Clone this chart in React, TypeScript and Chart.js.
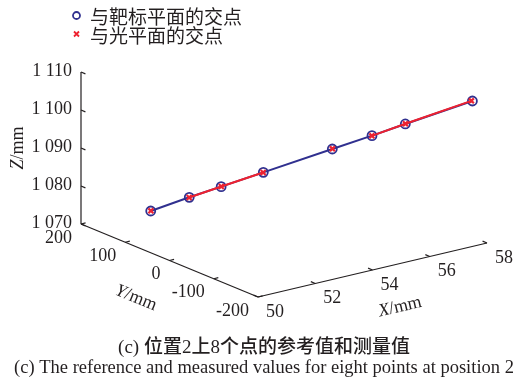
import { useEffect, useRef } from 'react';
import { Chart, registerables } from 'chart.js';

Chart.register(...registerables);

// ---------- data ----------
const X_REF = [50.89, 51.68, 52.33, 53.2, 54.59, 55.42, 56.12, 57.49];
const Y_REF = [100, 64, 34, -5, -71, -107, -137, -200];
const Z_REF = [1076.64, 1080.57, 1083.66, 1087.76, 1094.6, 1098.36, 1101.64, 1108.27];

const X_MEAS = [50.91, 51.66, 52.35, 53.18, 54.61, 55.4, 56.14, 57.47];
const Y_MEAS = [101, 63, 35, -6, -70, -108, -136, -199];
const Z_MEAS = [1076.6, 1080.62, 1083.62, 1087.8, 1094.55, 1098.4, 1101.6, 1108.3];

const X_TICKS = [50, 52, 54, 56, 58];
const Y_TICKS = [200, 100, 0, -100, -200];
const Z_TICKS = [1070, 1080, 1090, 1100, 1110];
const Z_TICK_LABELS = ['1 070', '1 080', '1 090', '1 100', '1 110'];

const LEGEND_LABELS = ['与靶标平面的交点', '与光平面的交点'];
const CAPTION_CN = '(c) 位置2上8个点的参考值和测量值';
const CAPTION_EN = '(c) The reference and measured values for eight points at position 2';

// ---------- style ----------
const BLUE = '#30308f';
const RED = '#ee2230';
const INK = '#231f20';
const SERIF = "'Liberation Serif', 'Times New Roman', serif";
const CJK = "'Noto Sans CJK SC', sans-serif";
const MIXED = "'Liberation Serif', 'Noto Sans CJK SC', serif";

const X_MIN = 50, X_MAX = 58, Y_MIN = -200, Y_MAX = 200, Z_MIN = 1070, Z_MAX = 1110;

// oblique projection of the 3D box onto the page plane
function project(x: number, y: number, z: number) {
  const nx = (x - X_MIN) / (X_MAX - X_MIN);
  const ny = (y - Y_MIN) / (Y_MAX - Y_MIN);
  const nz = (z - Z_MIN) / (Z_MAX - Z_MIN);
  return {
    x: 258 + 229 * nx - 177 * ny,
    y: 297 - 54 * nx - 73 * ny - 152 * nz,
  };
}

const refPoints = X_REF.map((x, i) => project(x, Y_REF[i], Z_REF[i]));
const measPoints = X_MEAS.map((x, i) => project(x, Y_MEAS[i], Z_MEAS[i]));
const BLUE_VISIBLE_SEGMENTS = [0, 3, 4];

function drawParts(
  ctx: CanvasRenderingContext2D,
  parts: { t: string; italic?: boolean }[],
  cx: number,
  cy: number,
  angle: number,
  size: number
) {
  ctx.save();
  ctx.translate(cx, cy);
  ctx.rotate(angle);
  ctx.textBaseline = 'middle';
  ctx.textAlign = 'left';
  let total = 0;
  const widths = parts.map((p) => {
    ctx.font = `${p.italic ? 'italic ' : ''}${size}px ${SERIF}`;
    const w = ctx.measureText(p.t).width;
    total += w;
    return w;
  });
  let x = -total / 2;
  parts.forEach((p, i) => {
    ctx.font = `${p.italic ? 'italic ' : ''}${size}px ${SERIF}`;
    ctx.fillStyle = INK;
    ctx.fillText(p.t, x, 0);
    x += widths[i];
  });
  ctx.restore();
}

const axes3dPlugin = {
  id: 'axes3d',
  beforeDatasetsDraw(chart: any) {
    const ctx: CanvasRenderingContext2D = chart.ctx;
    const sx = chart.scales.x, sy = chart.scales.y;
    const P = (x: number, y: number, z: number) => {
      const p = project(x, y, z);
      return { x: sx.getPixelForValue(p.x), y: sy.getPixelForValue(p.y) };
    };
    ctx.save();
    ctx.strokeStyle = INK;
    ctx.lineWidth = 1.2;
    const line = (a: any, b: any) => {
      ctx.beginPath();
      ctx.moveTo(a.x, a.y);
      ctx.lineTo(b.x, b.y);
      ctx.stroke();
    };
    // axis lines
    line(P(X_MIN, Y_MAX, Z_MIN), P(X_MIN, Y_MAX, Z_MAX));
    line(P(X_MIN, Y_MAX, Z_MIN), P(X_MIN, Y_MIN, Z_MIN));
    line(P(X_MIN, Y_MIN, Z_MIN), P(X_MAX, Y_MIN, Z_MIN));
    // ticks
    Z_TICKS.forEach((z) => line(P(X_MIN, Y_MAX, z), P(X_MIN, Y_MAX - 10, z)));
    Y_TICKS.forEach((y) => line(P(X_MIN, y, Z_MIN), P(X_MIN + 0.16, y, Z_MIN)));
    X_TICKS.forEach((x) => line(P(x, Y_MIN, Z_MIN), P(x, Y_MIN + 10, Z_MIN)));
    ctx.restore();
  },
  afterDraw(chart: any) {
    const ctx: CanvasRenderingContext2D = chart.ctx;
    const sx = chart.scales.x, sy = chart.scales.y;
    const P = (x: number, y: number, z: number) => {
      const p = project(x, y, z);
      return { x: sx.getPixelForValue(p.x), y: sy.getPixelForValue(p.y) };
    };
    ctx.save();
    ctx.fillStyle = INK;
    ctx.font = `18px ${SERIF}`;
    ctx.textBaseline = 'middle';
    // Z tick labels
    ctx.textAlign = 'right';
    Z_TICKS.forEach((z, i) => {
      const p = P(X_MIN, Y_MAX, z);
      ctx.fillText(Z_TICK_LABELS[i], p.x - 9, p.y - 1);
    });
    // Y tick labels
    ctx.textAlign = 'right';
    Y_TICKS.forEach((y) => {
      const p = P(X_MIN, y, Z_MIN);
      ctx.fillText(String(y), p.x - 9, p.y + 14);
    });
    // X tick labels
    ctx.textAlign = 'center';
    X_TICKS.forEach((x) => {
      const p = P(x, Y_MIN, Z_MIN);
      ctx.fillText(String(x), p.x + 17, p.y + 15);
    });
    // axis titles
    drawParts(ctx, [{ t: 'Z', italic: true }, { t: '/mm' }], 18, 148, -Math.PI / 2, 18);
    drawParts(ctx, [{ t: 'Y', italic: true }, { t: '/mm' }], 136, 298, (22 * Math.PI) / 180, 18);
    drawParts(ctx, [{ t: 'X', italic: true }, { t: '/mm' }], 400, 307, (-13 * Math.PI) / 180, 18);

    // legend
    ctx.strokeStyle = BLUE;
    ctx.lineWidth = 1.8;
    ctx.beginPath();
    ctx.arc(76.5, 15.5, 3.5, 0, Math.PI * 2);
    ctx.stroke();
    ctx.strokeStyle = RED;
    ctx.lineWidth = 1.8;
    ctx.beginPath();
    ctx.moveTo(74, 31.5);
    ctx.lineTo(79, 36.5);
    ctx.moveTo(79, 31.5);
    ctx.lineTo(74, 36.5);
    ctx.stroke();
    ctx.fillStyle = INK;
    ctx.font = `19px ${CJK}`;
    ctx.textAlign = 'left';
    ctx.fillText(LEGEND_LABELS[0], 90, 16.5);
    ctx.fillText(LEGEND_LABELS[1], 90, 35.5);

    // caption
    ctx.textAlign = 'center';
    ctx.font = `500 19px ${MIXED}`;
    ctx.fillText(CAPTION_CN, 264, 348);
    ctx.font = `18.5px ${SERIF}`;
    ctx.fillText(CAPTION_EN, 264, 368);
    ctx.restore();
  },
};

export default function App() {
  const ref = useRef<HTMLCanvasElement | null>(null);
  useEffect(() => {
    if (!ref.current) return;
    const chart = new Chart(ref.current, {
      type: 'scatter',
      data: {
        datasets: [
          {
            label: LEGEND_LABELS[1],
            data: measPoints,
            showLine: true,
            borderColor: RED,
            backgroundColor: RED,
            borderWidth: 2,
            pointStyle: 'crossRot',
            pointRadius: 3.5,
            pointBorderWidth: 2.2,
            order: 1,
            segment: {
              borderColor: (c: any) =>
                BLUE_VISIBLE_SEGMENTS.includes(c.p0DataIndex) ? 'rgba(0,0,0,0)' : RED,
            },
          },
          {
            label: LEGEND_LABELS[0],
            data: refPoints,
            showLine: true,
            borderColor: BLUE,
            backgroundColor: 'rgba(255,255,255,0)',
            borderWidth: 2,
            pointStyle: 'circle',
            pointRadius: 4.5,
            pointBorderWidth: 1.8,
            order: 2,
          },
        ],
      },
      options: {
        responsive: false,
        animation: false,
        layout: { padding: 0, autoPadding: false },
        events: [],
        plugins: { legend: { display: false }, tooltip: { enabled: false }, title: { display: false } },
        scales: {
          x: { type: 'linear', min: 0, max: 516, display: false },
          y: { type: 'linear', min: 0, max: 385, reverse: true, display: false },
        },
      },
      plugins: [axes3dPlugin],
    } as any);
    return () => chart.destroy();
  }, []);
  return (
    <div style={{ position: 'absolute', left: 0, top: 0, width: 516, height: 385, background: '#fff' }}>
      <canvas ref={ref} width={516} height={385} style={{ display: 'block' }} />
    </div>
  );
}
